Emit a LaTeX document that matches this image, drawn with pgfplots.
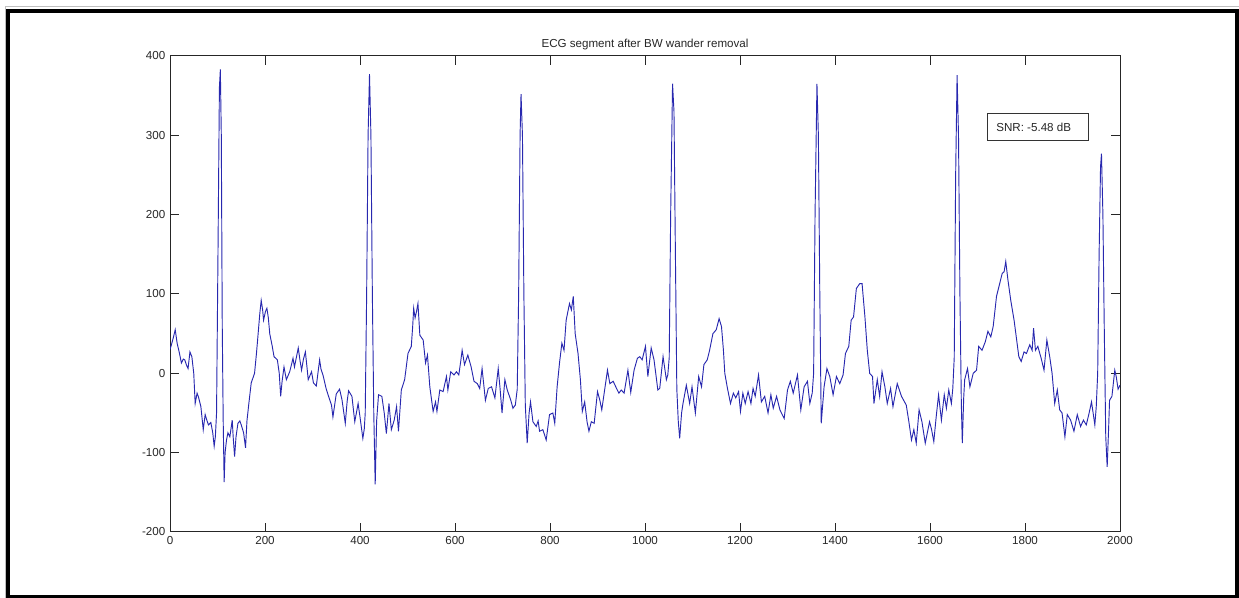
\documentclass[border=0pt]{standalone}
\usepackage{fontspec}
\setmainfont{Liberation Sans}
\usepackage{pgfplots}
\pgfplotsset{compat=1.18}
\definecolor{ecgblue}{RGB}{40,40,175}
\begin{document}
\begin{tikzpicture}
\useasboundingbox (0,0) rectangle (929.25pt,448.5pt);
\draw[gray!50, line width=0.75pt] (3.75pt,-5pt) -- (3.75pt,443.25pt) -- (935pt,443.25pt);
\draw[black, line width=3pt] (6pt,-5pt) -- (6pt,440.25pt) -- (927.4pt,440.25pt) -- (927.4pt,0.6pt) -- (6pt,0.6pt);
\begin{axis}[
  at={(127.5pt,49.5pt)}, anchor=south west,
  scale only axis, width=712.5pt, height=357pt,
  xmin=0, xmax=2000, ymin=-200, ymax=400,
  axis line style={black!85, line width=0.75pt},
  tick style={black!85, line width=0.75pt},
  major tick length=7pt, tick align=inside,
  xtick={0,200,400,600,800,1000,1200,1400,1600,1800,2000},
  xticklabels={0,200,400,600,800,1000,1200,1400,1600,1800,2000},
  ytick={-200,-100,0,100,200,300,400},
  yticklabels={-200,-100,0,100,200,300,400},
  ticklabel style={font=\fontsize{8.7}{10}\selectfont, text=black!85},
  clip=true,
]
\addplot[ecgblue, line width=0.7pt] coordinates {
(0,30)(3,36)(7,45)(11,55)(15,38)(20,25)(24,13)(28,18)(31,17)(35,10)(38,6)(42,27)(46,21)(50,0)(53,-38)(57,-25)(60,-30)(65,-42)(70,-71)(74,-52)(78,-60)(81,-65)(86,-62)(90,-75)(93,-92)(95.5,-80)
(98,-50)(101,150)(104,360)(106,383)(108,300)(110,60)(112,-60)(114,-137)(116,-100)(119,-84)(122,-75)(126,-80)(131,-59)(133,-80)(136,-105)(139,-80)(143,-63)(147,-60)(150,-65)(155,-75)(159,-94)(162,-60)(166,-38)(171,-12)(178,0)(182,25)(185,46)(189,75)(192,92)(195,80)(197,67)(201,78)(204,82)(207,70)(210,50)(215,35)(219,21)(226,17)(230,0)(233,-29)(236,-10)(240,8)(245,-8)(252,2)(259,19)(262,8)(266,20)(270,32)(274,15)(277,4)(281,18)(285,27)(288,10)(291,-8)(298,2)(302,-12)(308,-16)(315,17)(318,5)(322,-2)(329,-20)(336,-33)(340,-40)(343,-55)(350,-26)(357,-20)(362,-33)(366,-50)(369,-63)(373,-35)(376,-22)(383,-29)(386,-45)(389,-61)(396,-38)(400,-55)(406,-82)(409,-70)(411,-50)
(414,100)(417,300)(420,377)(423,300)(426,100)(429,-50)(432,-140)(435,-60)(439,-27)(446,-29)(451,-50)(455.5,-76)(461,-38)(466,-71)(472,-59)(477,-42)(481,-73)(487,-21)(494,-8)(501,25)(508,34)(511,60)(513,82)(516,70)(519,78)(522,88)(526,48)(533,42)(538,13)(542,23)(547,-17)(551,-35)(554,-48)(559,-36)(562,-48)(568,-21)(575,-23)(582,-4)(585,-21)(591,2)(598,-2)(603,2)(608,-2)(612,15)(615,29)(620,11)(627,23)(634,8)(640,-10)(647,-13)(652,-19)(657,6)(664,-34)(670,-19)(677,-17)(684,-31)(691,6)(695,-20)(699,-50)(705,-8)(710,-21)(717,-33)(722,-44)(727,-40)
(731,-20)(734,100)(737,300)(739,352)(742,300)(745,100)(748,-40)(752,-88)(756,-50)(759,-36)(764,-61)(771,-67)(775,-60)(778,-73)(785,-71)(792,-84)(799,-52)(806,-50)(810,-63)(815,-17)(820,13)(825,38)(829.5,29)(834,67)(841,88)(845,80)(849,97)(853,50)(859,25)(864,-8)(868,-48)(873,-36)(878,-61)(882,-73)(887,-61)(893,-63)(900,-23)(905,-34)(909,-46)(915,-21)(921,4)(926,-13)(933,-10)(940,-19)(945,-25)(950,-21)(956,-25)(964,4)(970,-24)(977,4)(984,19)(989,21)(994,17)(1001,34)(1006,-4)(1013,32)(1019,17)(1027,-21)(1031,-19)(1038,21)(1045,-8)(1048,-2)
(1051,20)(1054,200)(1058,365)(1061,330)(1064,150)(1067,-20)(1070,-60)(1073,-82)(1077,-50)(1080,-38)(1087,-15)(1094,-38)(1099,-17)(1106,-50)(1113,-4)(1119,-17)(1124,11)(1131,17)(1136,29)(1143,50)(1150,55)(1156,69)(1161,59)(1165,30)(1168,0)(1173,-17)(1180,-38)(1186,-25)(1191,-31)(1197,-23)(1201,-48)(1206,-25)(1211,-38)(1217,-23)(1223,-38)(1227.5,-19)(1232,-29)(1239,-2)(1245,-36)(1252,-29)(1259,-50)(1265,-27)(1270,-44)(1277,-29)(1284,-46)(1293,-57)(1300,-21)(1306,-10)(1312,-25)(1321,-2)(1328,-46)(1335,-17)(1342,-10)(1347,-38)(1352,-25)
(1355,0)(1358,200)(1362,365)(1365,300)(1368,100)(1371,-63)(1374,-40)(1377,-17)(1383,6)(1389,-4)(1396,-27)(1403,-4)(1410,-13)(1417,-2)(1422,25)(1429,34)(1434,67)(1439,71)(1445,107)(1452,113)(1457,113)(1463,71)(1468,29)(1473,0)(1479,-4)(1482,-38)(1489,-8)(1494,-29)(1499,2)(1505,-17)(1510,-38)(1517,-19)(1522,-42)(1531,-13)(1540,-29)(1550,-40)(1555,-59)(1561,-84)(1566,-71)(1571,-88)(1577,-46)(1583,-61)(1590,-88)(1599,-61)(1603,-70)(1608,-86)(1613,-55)(1618,-27)(1624,-59)(1630,-27)(1634.5,-44)(1639.5,-21)(1645,-38)(1648,-19)
(1651,20)(1654,250)(1657,376)(1660,300)(1663,100)(1666,-40)(1668,-88)(1671,-30)(1673,-8)(1679,6)(1684,-17)(1691,0)(1698,4)(1702.5,34)(1709.5,29)(1716.5,40)(1722,53)(1728,46)(1733,59)(1740,97)(1745,109)(1752,126)(1756,128)(1759.5,141)(1764,118)(1770,92)(1777,67)(1782,44)(1787,21)(1792,15)(1798,27)(1803,25)(1810,36)(1815,29)(1818,57)(1822,29)(1827,34)(1834,19)(1840,4)(1846,42)(1852,21)(1857,0)(1862.5,-38)(1868,-21)(1873,-46)(1878,-50)(1884,-80)(1889,-52)(1896,-59)(1903,-73)(1910,-52)(1917,-67)(1923,-59)(1929,-65)(1935,-50)(1940,-36)(1947,-65)(1950,-42)
(1953,0)(1956,150)(1959,260)(1961,277)(1964,200)(1967,50)(1970,-80)(1973,-118)(1976,-70)(1978,-34)(1983,-29)(1989,4)(1992,-4)(1996,-20)(2000,-15)
};
\draw[black!80, line width=0.75pt, fill=white] (axis cs:1722,327) rectangle (axis cs:1933,294);
\node[anchor=west, inner sep=0pt, font=\fontsize{8.7}{10}\selectfont, text=black!85] at (axis cs:1739,310.5) {SNR: -5.48 dB};
\end{axis}
\node[anchor=base, inner sep=0pt, font=\fontsize{8.7}{10}\selectfont, text=black!85] at (483.75pt,412.7pt) {ECG segment after BW wander removal};
\end{tikzpicture}
\end{document}
